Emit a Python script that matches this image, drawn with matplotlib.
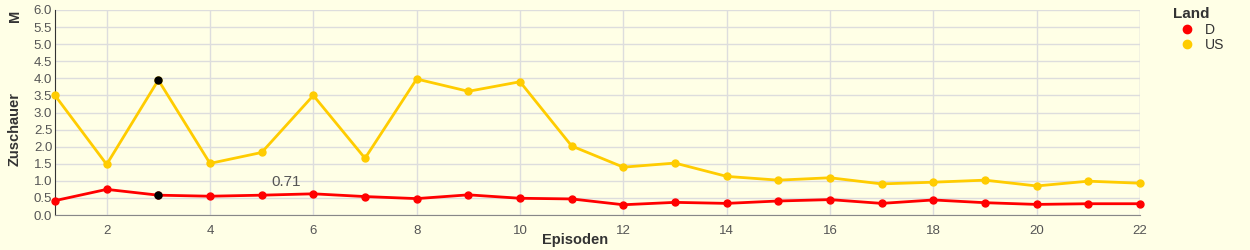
import matplotlib.pyplot as plt

plt.rcParams["font.family"] = ["Liberation Sans", "DejaVu Sans"]

episodes = list(range(1, 23))
d_values = [0.42, 0.75, 0.58, 0.55, 0.58, 0.62, 0.54, 0.48, 0.59, 0.49, 0.47,
            0.30, 0.37, 0.34, 0.41, 0.45, 0.34, 0.44, 0.36, 0.31, 0.33, 0.33]
us_values = [3.50, 1.48, 3.95, 1.51, 1.83, 3.50, 1.66, 3.98, 3.62, 3.90, 2.02,
             1.40, 1.52, 1.13, 1.02, 1.09, 0.91, 0.96, 1.02, 0.85, 0.99, 0.93]
highlight_ep = 3
note_text = "0.71"
note_pos = (5.47, 0.96)

BG = "#ffffe6"
TXT = "#555555"

fig = plt.figure(figsize=(12.5, 2.5), dpi=100, facecolor=BG)
ax = fig.add_axes([55 / 1250, 35 / 250, 1085 / 1250, 205 / 250])
ax.set_facecolor(BG)

ax.plot(episodes, us_values, color="#ffcc00", lw=2, marker="o", ms=5, label="US",
        zorder=3, clip_on=False)
ax.plot(episodes, d_values, color="#ff0000", lw=2, marker="o", ms=5, label="D",
        zorder=3, clip_on=False)
i = episodes.index(highlight_ep)
ax.plot([highlight_ep, highlight_ep], [us_values[i], d_values[i]], ls="none",
        marker="o", ms=5, color="black", zorder=4)
ax.text(*note_pos, note_text, ha="center", va="center", fontsize=11, color=TXT)

ax.set_xlim(1, 22)
ax.set_ylim(0, 6)
ax.set_xticks(range(2, 23, 2))
ax.set_yticks([v / 2 for v in range(13)])
ax.yaxis.set_major_formatter(plt.FuncFormatter(lambda v, _: f"{v:.1f}"))
ax.tick_params(colors=TXT, labelsize=9.5, length=0)
ax.tick_params(axis="x", pad=7)
ax.tick_params(axis="y", pad=2)
ax.grid(color="#dddddd", lw=1)
ax.set_axisbelow(True)
for s in ["top", "right"]:
    ax.spines[s].set_visible(False)
ax.spines["left"].set_color("#333333")
ax.spines["bottom"].set_color("#888888")
ax.axvline(22, color="#dddddd", lw=1, zorder=0)

fig.text(575 / 1250, 1 - 240 / 250, "Episoden", ha="center", va="center",
         fontsize=10.5, fontweight="bold", color="#333333")
fig.text(15 / 1250, 0.485, "Zuschauer", rotation=90, ha="center", va="center",
         fontsize=10.5, fontweight="bold", color="#333333")
fig.text(15 / 1250, 1 - 16 / 250, "M", rotation=90, ha="center", va="center",
         fontsize=10.5, fontweight="bold", color="#333333")

handles, labels = ax.get_legend_handles_labels()
leg = fig.legend(handles[::-1], labels[::-1], title="Land", loc="upper left",
                 bbox_to_anchor=(1163 / 1250, 1.01), frameon=False, fontsize=10,
                 handlelength=2.0, handletextpad=0.3, labelspacing=0.1,
                 borderpad=0.2, markerscale=1.2,
                 title_fontproperties={"weight": "bold", "size": 11})
for h in leg.legend_handles:
    h.set_linestyle("none")
for t in leg.get_texts():
    t.set_color("#333333")
leg.get_title().set_color("#333333")
leg._legend_box.align = "left"

fig.savefig("out.png", facecolor=BG)
